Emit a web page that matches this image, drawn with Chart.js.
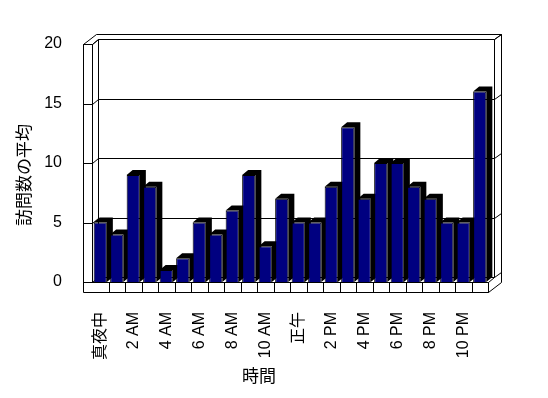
<!DOCTYPE html>
<html>
<head>
<meta charset="utf-8">
<script src="https://cdn.jsdelivr.net/npm/chart.js@4"></script>
<style>
  html, body { margin: 0; padding: 0; background: #fff; }
  #wrap { width: 548px; height: 398px; }
</style>
</head>
<body>
<div id="wrap"><canvas id="visitChart"></canvas></div>
<script>
// --- Chart data ---
const hours = ['真夜中', '1 AM', '2 AM', '3 AM', '4 AM', '5 AM', '6 AM', '7 AM', '8 AM', '9 AM', '10 AM', '11 AM',
               '正午', '1 PM', '2 PM', '3 PM', '4 PM', '5 PM', '6 PM', '7 PM', '8 PM', '9 PM', '10 PM', '11 PM'];
const avgVisits = [5, 4, 9, 8, 1, 2, 5, 4, 6, 9, 3, 7, 5, 5, 8, 13, 7, 10, 10, 8, 7, 5, 5, 16];
const yTicks = [0, 5, 10, 15, 20];
const xTitle = '時間';
const yTitle = '訪問数の平均';

const FONT = '"Liberation Sans", "Noto Sans CJK JP", sans-serif';
const DEPTH = { dx: 6, dy: -5 };   // bar depth / inner face of the back wall
const SLAB = { dx: 13, dy: -10 };  // outer edge of the wall slabs
const WALL_W = 9, FLOOR_H = 10;

// --- Fake 3D box: walls, floor, gridlines and bar sides ---
const box3d = {
    id: 'box3d',
    beforeDraw(chart) {
        const ctx = chart.ctx;
        ctx.save();
        ctx.fillStyle = '#fff';
        ctx.fillRect(0, 0, chart.width, chart.height);
        ctx.restore();
    },
    beforeDatasetsDraw(chart) {
        const { ctx, chartArea: a, scales: { x, y } } = chart;
        const L = a.left, R = a.right, T = a.top, B = a.bottom;
        const OL = L - WALL_W;
        const px = v => Math.round(v) + 0.5;
        const line = pts => {
            ctx.beginPath();
            pts.forEach(([u, v], i) => i ? ctx.lineTo(px(u), px(v)) : ctx.moveTo(px(u), px(v)));
            ctx.stroke();
        };

        ctx.save();
        ctx.strokeStyle = '#000';
        ctx.lineWidth = 1;

        // outer slab edges
        line([[OL, T], [OL + SLAB.dx, T + SLAB.dy], [R + SLAB.dx, T + SLAB.dy],
              [R + SLAB.dx, B + FLOOR_H + SLAB.dy], [R, B + FLOOR_H]]);
        // inner back wall
        line([[L, T], [L + DEPTH.dx, T + DEPTH.dy], [R + DEPTH.dx, T + DEPTH.dy],
              [R + DEPTH.dx, B + DEPTH.dy], [R, B]]);
        line([[R + DEPTH.dx, T + DEPTH.dy], [R + SLAB.dx, T + SLAB.dy]]);
        line([[L + DEPTH.dx, T + DEPTH.dy], [L + DEPTH.dx, B + DEPTH.dy]]);

        // gridlines running over left wall, back wall and right edge
        yTicks.forEach(v => {
            const gy = y.getPixelForValue(v);
            line([[OL, gy], [L, gy], [L + DEPTH.dx, gy + DEPTH.dy],
                  [R + DEPTH.dx, gy + DEPTH.dy], [R + SLAB.dx, gy + SLAB.dy]]);
        });

        // left wall front face
        line([[OL, B + FLOOR_H], [OL, T], [L, T], [L, B]]);
        // floor front face with category cells
        line([[OL, B], [R, B], [R, B + FLOOR_H], [OL, B + FLOOR_H]]);
        for (let i = 1; i <= hours.length; i++) {
            const cx = x.getPixelForValue(i - 0.5);
            line([[cx, B], [cx, B + FLOOR_H]]);
        }

        // bar tops and sides (front faces are drawn by Chart.js)
        ctx.fillStyle = '#000';
        chart.getDatasetMeta(0).data.forEach(bar => {
            const xl = bar.x - bar.width / 2, xr = bar.x + bar.width / 2;
            const yt = bar.y, yb = bar.base;
            ctx.beginPath();
            ctx.moveTo(xl, yt);
            ctx.lineTo(xl + DEPTH.dx, yt + DEPTH.dy);
            ctx.lineTo(xr + DEPTH.dx, yt + DEPTH.dy);
            ctx.lineTo(xr + DEPTH.dx, yb + DEPTH.dy);
            ctx.lineTo(xr, yb);
            ctx.lineTo(xr, yt);
            ctx.closePath();
            ctx.fill();
        });
        ctx.restore();
    },
    afterDraw(chart) {
        const ctx = chart.ctx;
        ctx.save();
        ctx.fillStyle = '#000';
        ctx.font = `17px ${FONT}`;
        ctx.textAlign = 'center';
        ctx.textBaseline = 'middle';
        ctx.fillText(xTitle, 259, 377);
        ctx.translate(25, 175);
        ctx.rotate(-Math.PI / 2);
        ctx.fillText(yTitle, 0, 0);
        ctx.restore();
    }
};

new Chart(document.getElementById('visitChart'), {
    type: 'bar',
    data: {
        labels: hours,
        datasets: [{
            data: avgVisits,
            backgroundColor: '#000080',
            borderColor: '#000',
            borderWidth: 1,
            barPercentage: 0.8,
            categoryPercentage: 1
        }]
    },
    options: {
        responsive: true,
        maintainAspectRatio: false,
        animation: false,
        layout: { padding: { top: 44, right: 60, left: 0, bottom: 0 } },
        plugins: {
            legend: { display: false },
            tooltip: { enabled: false }
        },
        scales: {
            x: {
                grid: { display: false },
                border: { display: false },
                ticks: {
                    autoSkip: false,
                    maxRotation: 90,
                    minRotation: 90,
                    padding: 22,
                    color: '#000',
                    font: { size: 16, family: FONT },
                    callback: (v, i) => i % 2 === 0 ? hours[i] : ''
                },
                afterFit: s => { s.height = 116; }
            },
            y: {
                min: 0,
                max: 20,
                grid: { display: false },
                border: { display: false },
                ticks: {
                    stepSize: 5,
                    padding: 22,
                    color: '#000',
                    font: { size: 16, family: FONT }
                },
                afterFit: s => { s.width = 92; }
            }
        }
    },
    plugins: [box3d]
});
</script>
</body>
</html>
